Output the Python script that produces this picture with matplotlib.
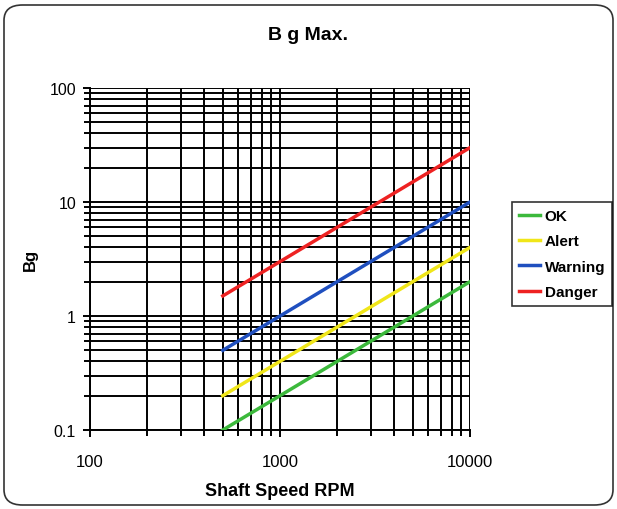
import matplotlib.pyplot as plt
from matplotlib.patches import FancyBboxPatch
from matplotlib.ticker import LogLocator, NullFormatter, FixedLocator, FixedFormatter

plt.rcParams['font.family'] = ['Liberation Sans', 'DejaVu Sans']

# Data
rpm = [500, 10000]
levels = ['OK', 'Alert', 'Warning', 'Danger']
bg_ok = [0.1, 2]
bg_alert = [0.2, 4]
bg_warning = [0.5, 10]
bg_danger = [1.5, 30]
colours = ['#3cb93c', '#f0e619', '#1f4fbf', '#ee2222']

fig = plt.figure(figsize=(6.17, 5.10), dpi=100)
ax = fig.add_axes([90/617, 1-431/510, 380/617, 342/510])

for s, vals, c in zip(levels, [bg_ok, bg_alert, bg_warning, bg_danger], colours):
    ax.plot(rpm, vals, color=c, lw=2.5, label=s, zorder=3)

ax.set_xscale('log')
ax.set_yscale('log')
ax.set_xlim(100, 10000)
ax.set_ylim(0.1, 100)

ax.xaxis.set_major_locator(FixedLocator([100, 1000, 10000]))
ax.xaxis.set_major_formatter(FixedFormatter(['100', '1000', '10000']))
ax.yaxis.set_major_locator(FixedLocator([0.1, 1, 10, 100]))
ax.yaxis.set_major_formatter(FixedFormatter(['0.1', '1', '10', '100']))
ax.xaxis.set_minor_locator(LogLocator(base=10, subs=range(2, 10)))
ax.yaxis.set_minor_locator(LogLocator(base=10, subs=range(2, 10)))
ax.xaxis.set_minor_formatter(NullFormatter())
ax.yaxis.set_minor_formatter(NullFormatter())

ax.grid(True, which='both', color='black', lw=1.4, zorder=1)
ax.set_axisbelow(True)
ax.tick_params(which='major', length=5, width=1.4, labelsize=11.5, direction='out', pad=5)
ax.tick_params(which='minor', length=4, width=1.4, direction='out')
ax.tick_params(axis='x', pad=12, labelsize=12)
for sp in ['top', 'right']:
    ax.spines[sp].set_visible(False)
for sp in ['left', 'bottom']:
    ax.spines[sp].set_linewidth(1.4)

ax.set_xlabel('Shaft Speed RPM', fontsize=13, fontweight='bold', labelpad=10)
ax.set_ylabel('Bg', fontsize=12, fontweight='bold', labelpad=8)
fig.text(0.5, 1-35/510, 'B g Max.', ha='center', va='center', fontsize=14,
         fontweight='bold')

leg = fig.legend(loc='upper left', bbox_to_anchor=(512/617, 1-203/510), frameon=True,
                 fancybox=False, edgecolor='black',
                 prop={'weight': 'bold', 'size': 11},
                 handlelength=1.4, handletextpad=0.3, labelspacing=0.75,
                 borderpad=0.45, borderaxespad=0)
leg.get_frame().set_linewidth(1.2)

fig.patches.append(FancyBboxPatch((4/617, 4/510), 609/617, 500/510,
                                  boxstyle='round,pad=0,rounding_size=0.03',
                                  transform=fig.transFigure, fill=False,
                                  edgecolor='#333333', lw=1.2))

fig.savefig('out.png', dpi=100)
